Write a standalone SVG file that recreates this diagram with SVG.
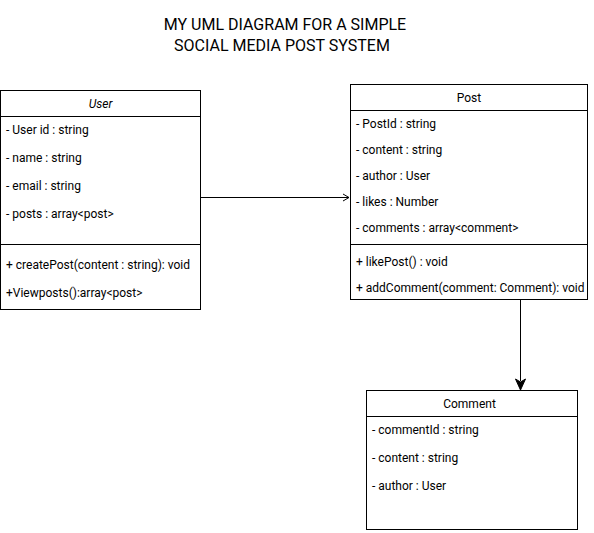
<svg xmlns="http://www.w3.org/2000/svg" width="594" height="533" viewBox="0 0 594 533">
<style>
.box{fill:#fff;stroke:#000;stroke-width:1}
.ln{stroke:#000;stroke-width:1;fill:none}
.t{font-family:Roboto,"Liberation Sans",sans-serif;font-size:12px;fill:#000}
.h{text-anchor:middle}
.ttl{font-family:Roboto,"Liberation Sans",sans-serif;font-size:16px;fill:#000;text-anchor:middle}
</style>
<defs>
<marker id="open" markerWidth="10" markerHeight="10" refX="8" refY="5" orient="auto" markerUnits="userSpaceOnUse">
<path d="M2,1.5 L8,5 L2,8.5" fill="none" stroke="#000" stroke-width="1"/>
</marker>
<marker id="fill" markerWidth="12" markerHeight="12" refX="6" refY="10" orient="auto" markerUnits="userSpaceOnUse">
<path d="M0,0 L6,10 L12,0 L6,3 Z" fill="#000" transform="rotate(-90 6 6)"/>
</marker>
</defs>
<g id="title">
<text class="ttl" x="285" y="30">MY UML DIAGRAM FOR A SIMPLE</text>
<text class="ttl" x="282" y="51">SOCIAL MEDIA POST SYSTEM</text>
</g>
<g id="connectors">
<line class="ln" x1="200.5" y1="197.5" x2="349" y2="197.5" marker-end="url(#open)"/>
<line class="ln" x1="520.5" y1="299" x2="520.5" y2="381"/>
<path d="M515.5,379 L520.5,390 L525.5,379 L520.5,382 Z" fill="#000" stroke="#000" stroke-width="1"/>
</g>
<g id="user">
<rect class="box" x="0.5" y="90.5" width="200" height="219"/>
<line class="ln" x1="0.5" y1="116.5" x2="200.5" y2="116.5"/>
<line class="ln" x1="0.5" y1="244.5" x2="200.5" y2="244.5" stroke="#555" stroke-width="1.5"/>
<text class="t h" x="100.5" y="108" font-style="italic">User</text>
<text class="t" x="6" y="134">- User id : string</text>
<text class="t" x="6" y="162">- name : string</text>
<text class="t" x="6" y="190">- email : string</text>
<text class="t" x="6" y="218">- posts : array&lt;post&gt;</text>
<text class="t" x="6" y="269">+ createPost(content : string): void</text>
<text class="t" x="6" y="297">+Viewposts():array&lt;post&gt;</text>
</g>
<g id="post">
<rect class="box" x="350.5" y="84.5" width="237" height="215"/>
<line class="ln" x1="350.5" y1="110.5" x2="587.5" y2="110.5"/>
<line class="ln" x1="350.5" y1="244.5" x2="587.5" y2="244.5"/>
<text class="t h" x="469" y="102">Post</text>
<text class="t" x="356" y="128">- PostId : string</text>
<text class="t" x="356" y="154">- content : string</text>
<text class="t" x="356" y="180">- author : User</text>
<text class="t" x="356" y="206">- likes : Number</text>
<text class="t" x="356" y="232">- comments : array&lt;comment&gt;</text>
<text class="t" x="356" y="266">+ likePost() : void</text>
<text class="t" x="356" y="292">+ addComment(comment: Comment): void</text>
</g>
<g id="comment">
<rect class="box" x="366.5" y="390.5" width="211" height="139"/>
<line class="ln" x1="366.5" y1="416.5" x2="577.5" y2="416.5"/>
<text class="t h" x="469.5" y="408">Comment</text>
<text class="t" x="372" y="434">- commentId : string</text>
<text class="t" x="372" y="462">- content : string</text>
<text class="t" x="372" y="490">- author : User</text>
</g>
</svg>
